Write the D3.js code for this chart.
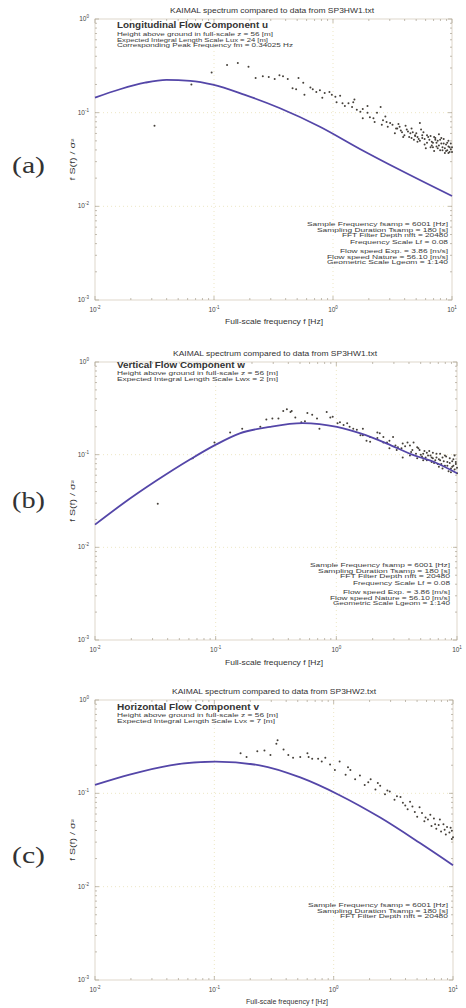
<!DOCTYPE html>
<html>
<head>
<meta charset="utf-8">
<script src="https://cdn.jsdelivr.net/npm/d3@7"></script>
<style>
  body { margin: 0; background: #ffffff; }
  svg { display: block; }
</style>
</head>
<body>
<div id="canvas"></div>
<script>
// page size
var w = 466;
var h = 1008;

// data, kept as log10 values: [log10 f, log10 fS/sigma^2]
var uCurve = [[-2.0,-0.84],[-1.79,-0.75],[-1.58,-0.68],[-1.40,-0.65],[-1.20,-0.66],[-1.01,-0.70],[-0.74,-0.81],
  [-0.45,-0.95],[-0.11,-1.15],[0.23,-1.39],[0.56,-1.61],[1.0,-1.89]];
var uDots = [[-1.50,-1.14],[-1.19,-0.70],[-1.02,-0.57],[-0.89,-0.49],[-0.80,-0.47],[-0.71,-0.51],[-0.65,-0.63],
  [-0.59,-0.61],[-0.54,-0.62],[-0.49,-0.64],[-0.45,-0.60],[-0.42,-0.61],[-0.38,-0.64],[-0.34,-0.74],[-0.31,-0.75],
  [-0.29,-0.63],[-0.25,-0.68],[-0.24,-0.81],[-0.19,-0.73],[-0.17,-0.75],[-0.11,-0.76],[-0.09,-0.84],[-0.07,-0.79],
  [-0.03,-0.78],[-0.01,-0.81],[0.02,-0.83],[0.03,-0.89],[0.08,-0.90],[0.10,-0.93],[0.13,-0.90],[0.16,-0.94],
  [0.17,-0.89],[0.20,-0.97],[0.23,-0.99],[0.25,-0.96],[0.25,-1.06],[0.29,-1.00],[0.31,-1.05],[0.34,-1.06],
  [0.35,-1.10],[0.37,-1.00],[0.40,-0.94],[0.41,-1.13],[0.42,-1.08],[0.45,-1.10],[0.46,-1.15],[0.48,-1.11],
  [0.50,-1.13],[0.52,-1.22],[0.54,-1.17],[0.56,-1.15],[0.58,-1.21],[0.59,-1.26],[0.62,-1.18],[0.65,-1.22],
  [0.66,-1.27],[0.67,-1.21],[0.71,-1.26],[0.71,-1.31],[0.73,-1.11],[0.75,-1.24],[0.77,-1.28],[0.79,-1.32],
  [0.80,-1.26],[0.83,-1.31],[0.84,-1.37],[0.86,-1.27],[0.87,-1.32],[0.88,-1.38],[0.90,-1.29],[0.92,-1.37],
  [0.94,-1.43],[0.96,-1.40],[0.98,-1.37],[1.00,-1.42],[0.61,-1.14],[0.69,-1.24],[0.74,-1.18],[0.82,-1.25],
  [0.86,-1.29],[0.91,-1.33],[0.95,-1.34],[0.97,-1.30],[0.99,-1.39],[0.93,-1.28],[0.89,-1.23],[0.78,-1.38],
  [0.82,-1.37],[0.72,-1.28],[0.64,-1.26],[0.55,-1.12],[0.44,-1.04],[0.29,-0.93],[0.18,-0.86],[0.06,-0.82],
  [-0.14,-0.78],[0.97,-1.43],[0.85,-1.41],[0.92,-1.40],
  [0.57,-1.19],[0.60,-1.24],[0.63,-1.20],[0.66,-1.17],[0.68,-1.29],[0.70,-1.22],[0.73,-1.30],[0.76,-1.21],
  [0.77,-1.34],[0.79,-1.24],[0.81,-1.29],[0.83,-1.35],[0.85,-1.26],[0.87,-1.36],[0.88,-1.30],[0.90,-1.40],
  [0.91,-1.27],[0.93,-1.33],[0.94,-1.38],[0.96,-1.32],[0.97,-1.36],[0.98,-1.42],[0.99,-1.33],[1.00,-1.37],
  [0.95,-1.41],[0.89,-1.35],[0.84,-1.32],[0.75,-1.27],[0.69,-1.25],[0.53,-1.17]];

var wCurve = [[-2.0,-1.755],[-1.77,-1.53],[-1.49,-1.28],[-1.21,-1.05],[-1.01,-0.90],[-0.80,-0.77],[-0.55,-0.70],
  [-0.28,-0.66],[-0.14,-0.67],[0.005,-0.70],[0.20,-0.77],[0.42,-0.88],[0.61,-0.99],[0.83,-1.09],[1.0,-1.20]];
var wDots = [[-1.48,-1.53],[-1.19,-1.04],[-1.01,-0.87],[-0.88,-0.76],[-0.78,-0.72],[-0.63,-0.70],[-0.58,-0.62],
  [-0.53,-0.61],[-0.48,-0.61],[-0.44,-0.53],[-0.41,-0.51],[-0.38,-0.54],[-0.37,-0.53],[-0.34,-0.60],[-0.29,-0.65],
  [-0.26,-0.64],[-0.24,-0.55],[-0.20,-0.57],[-0.16,-0.61],[-0.14,-0.72],[-0.08,-0.54],[-0.05,-0.60],[-0.03,-0.59],
  [0.01,-0.66],[0.03,-0.65],[0.06,-0.68],[0.09,-0.66],[0.11,-0.70],[0.14,-0.72],[0.17,-0.73],[0.20,-0.79],
  [0.22,-0.72],[0.22,-0.79],[0.25,-0.85],[0.28,-0.86],[0.28,-0.81],[0.34,-0.76],[0.34,-0.82],[0.36,-0.77],
  [0.39,-0.81],[0.39,-0.87],[0.42,-0.87],[0.44,-0.85],[0.44,-0.93],[0.47,-0.81],[0.49,-0.90],[0.50,-0.95],
  [0.51,-0.92],[0.54,-0.93],[0.55,-0.88],[0.55,-1.03],[0.59,-0.87],[0.61,-0.90],[0.61,-1.01],[0.64,-0.87],
  [0.67,-0.92],[0.67,-1.04],[0.69,-0.95],[0.72,-0.99],[0.75,-0.98],[0.75,-1.06],[0.78,-1.01],[0.80,-0.98],
  [0.80,-1.04],[0.83,-1.03],[0.86,-1.06],[0.88,-1.15],[0.88,-1.03],[0.92,-1.08],[0.94,-1.04],[0.97,-1.12],
  [0.98,-1.01],[1.00,-1.14],[1.00,-1.20],[0.70,-1.00],[0.74,-1.03],[0.79,-1.08],[0.84,-1.10],[0.90,-1.12],
  [0.95,-1.15],[0.96,-1.07],[0.91,-1.02],[0.86,-0.99],[0.82,-1.06],[0.77,-0.96],[0.93,-1.18],[0.99,-1.10],
  [0.63,-0.95],[0.57,-0.91],
  [0.62,-0.97],[0.66,-0.99],[0.68,-0.93],[0.71,-1.02],[0.73,-0.96],[0.76,-1.01],[0.79,-1.03],[0.81,-1.09],
  [0.83,-0.99],[0.85,-1.05],[0.87,-1.10],[0.89,-1.07],[0.90,-1.01],[0.92,-1.12],[0.94,-1.09],[0.96,-1.13],
  [0.97,-1.05],[0.98,-1.16],[0.99,-1.08],[0.95,-1.19],[0.85,-1.13],[0.72,-1.06]];

var vCurve = [[-2.0,-0.91],[-1.71,-0.80],[-1.37,-0.70],[-0.99,-0.66],[-0.62,-0.70],[-0.28,-0.83],[0.05,-1.02],
  [0.39,-1.26],[0.72,-1.53],[1.0,-1.77]];
var vDots = [[-0.78,-0.57],[-0.73,-0.61],[-0.64,-0.55],[-0.58,-0.54],[-0.53,-0.59],[-0.48,-0.47],[-0.47,-0.43],
  [-0.42,-0.53],[-0.38,-0.59],[-0.34,-0.62],[-0.28,-0.61],[-0.22,-0.57],[-0.21,-0.61],[-0.13,-0.63],[-0.07,-0.62],
  [-0.03,-0.69],[0.01,-0.75],[0.05,-0.66],[0.10,-0.80],[0.14,-0.75],[0.18,-0.85],[0.22,-0.81],[0.26,-0.91],
  [0.31,-0.85],[0.35,-0.96],[0.39,-0.92],[0.43,-1.01],[0.47,-0.98],[0.51,-1.07],[0.56,-1.04],[0.60,-1.13],
  [0.64,-1.09],[0.68,-1.20],[0.72,-1.15],[0.77,-1.26],[0.81,-1.23],[0.85,-1.33],[0.89,-1.28],[0.93,-1.39],
  [0.98,-1.37],[1.00,-1.47],
  [0.70,-1.25],[0.74,-1.21],[0.76,-1.30],[0.79,-1.28],[0.82,-1.35],[0.84,-1.27],[0.86,-1.38],[0.88,-1.34],
  [0.90,-1.41],[0.92,-1.33],[0.94,-1.44],[0.95,-1.36],[0.97,-1.42],[0.99,-1.49],[0.99,-1.40],[0.62,-1.17],
  [0.66,-1.14],[0.58,-1.10],[0.53,-1.03],[0.45,-0.97],[0.37,-0.89],[0.29,-0.88],[0.12,-0.72],[-0.10,-0.66],
  [-0.18,-0.63]];

// axis ranges and tick labels
var xDomain = [0.01, 10];
var yDomain = [0.001, 1];
var xTicks = [0.01, 0.1, 1, 10];
var yTicks = [0.001, 0.01, 0.1, 1];

var titles = ["KAIMAL spectrum compared to data from SP3HW1.txt",
              "KAIMAL spectrum compared to data from SP3HW1.txt",
              "KAIMAL spectrum compared to data from SP3HW2.txt"];
var headers = ["Longitudinal Flow Component u", "Vertical Flow Component w", "Horizontal Flow Component v"];
var infoLines = [
  ["Height above ground in full-scale z = 56 [m]", "Expected Integral Length Scale Lux = 24 [m]", "Corresponding Peak Frequency fm = 0.34025 Hz"],
  ["Height above ground in full-scale z = 56 [m]", "Expected Integral Length Scale Lwx = 2 [m]"],
  ["Height above ground in full-scale z = 56 [m]", "Expected Integral Length Scale Lvx = 7 [m]"]
];
var paramLines = [
  ["Sample Frequency fsamp = 6001 [Hz]", "Sampling Duration Tsamp = 180 [s]", "FFT Filter Depth nfft = 20480",
   "Frequency Scale Lf = 0.08", "Flow speed Exp. = 3.86 [m/s]", "Flow speed Nature = 56.10 [m/s]", "Geometric Scale Lgeom = 1:140"],
  ["Sample Frequency fsamp = 6001 [Hz]", "Sampling Duration Tsamp = 180 [s]", "FFT Filter Depth nfft = 20480",
   "Frequency Scale Lf = 0.08", "Flow speed Exp. = 3.86 [m/s]", "Flow speed Nature = 56.10 [m/s]", "Geometric Scale Lgeom = 1:140"],
  ["Sample Frequency fsamp = 6001 [Hz]", "Sampling Duration Tsamp = 180 [s]", "FFT Filter Depth nfft = 20480"]
];
var panelLabels = ["(a)", "(b)", "(c)"];

var svg = d3.select("#canvas")
  .append("svg")
  .attr("width", w)
  .attr("height", h)
  .style("background-color", "#ffffff");

var font = "'Liberation Sans', Arial, sans-serif";

function sup(sel, d) {
  var e = Math.round(Math.log10(d));
  sel.text("10").append("tspan").attr("dy", -3).attr("font-size", 4.5).text(e);
}

// stretch a text to the width it has in the scan
function fit(sel, len) {
  if (len) sel.attr("textLength", len).attr("lengthAdjust", "spacingAndGlyphs");
}

function drawPanel(i, box, curve, dots) {
  var x = d3.scaleLog().domain(xDomain).range([box.left, box.right]);
  var y = d3.scaleLog().domain(yDomain).range([box.bottom, box.top]);
  var g = svg.append("g");

  // dotted grid
  g.selectAll(".gx").data([0.1, 1]).join("line")
    .attr("x1", d => x(d)).attr("x2", d => x(d))
    .attr("y1", box.top).attr("y2", box.bottom)
    .attr("stroke", "#e8dfb6").attr("stroke-width", 0.8).attr("stroke-dasharray", "1,3");
  g.selectAll(".gy").data([0.01, 0.1]).join("line")
    .attr("x1", box.left).attr("x2", box.right)
    .attr("y1", d => y(d)).attr("y2", d => y(d))
    .attr("stroke", "#e8dfb6").attr("stroke-width", 0.8).attr("stroke-dasharray", "1,3");

  // frame
  g.append("rect")
    .attr("x", box.left).attr("y", box.top)
    .attr("width", box.right - box.left).attr("height", box.bottom - box.top)
    .attr("fill", "none").attr("stroke", "#d6cdbf").attr("stroke-width", 0.8);

  // minor ticks on all sides
  var xm = x.ticks();
  var ym = y.ticks();
  g.selectAll(".mxb").data(xm).join("line")
    .attr("x1", d => x(d)).attr("x2", d => x(d))
    .attr("y1", box.bottom).attr("y2", d => box.bottom - (xTicks.includes(d) ? 4 : 2))
    .attr("stroke", "#a9a090").attr("stroke-width", 0.7);
  g.selectAll(".mxt").data(xm).join("line")
    .attr("x1", d => x(d)).attr("x2", d => x(d))
    .attr("y1", box.top).attr("y2", d => box.top + (xTicks.includes(d) ? 4 : 2))
    .attr("stroke", "#a9a090").attr("stroke-width", 0.7);
  g.selectAll(".myl").data(ym).join("line")
    .attr("y1", d => y(d)).attr("y2", d => y(d))
    .attr("x1", box.left).attr("x2", d => box.left + (yTicks.includes(d) ? 4 : 2))
    .attr("stroke", "#a9a090").attr("stroke-width", 0.7);
  g.selectAll(".myr").data(ym).join("line")
    .attr("y1", d => y(d)).attr("y2", d => y(d))
    .attr("x1", box.right).attr("x2", d => box.right - (yTicks.includes(d) ? 4 : 2))
    .attr("stroke", "#a9a090").attr("stroke-width", 0.7);

  // tick labels
  g.selectAll(".xl").data(xTicks).join("text")
    .attr("x", d => x(d)).attr("y", box.bottom + 12)
    .attr("text-anchor", "middle").attr("font-family", font).attr("font-size", 6.5).attr("fill", "#444")
    .each(function(d) { sup(d3.select(this), d); });
  g.selectAll(".yl").data(yTicks).join("text")
    .attr("x", box.left - 6).attr("y", d => y(d) + 2)
    .attr("text-anchor", "end").attr("font-family", font).attr("font-size", 6.5).attr("fill", "#444")
    .each(function(d) { sup(d3.select(this), d); });

  // axis titles
  g.append("text")
    .attr("x", box.xTitleX).attr("y", box.xTitle)
    .attr("text-anchor", "middle").attr("font-family", font).attr("font-size", 7).attr("fill", "#333")
    .text("Full-scale frequency f [Hz]")
    .call(fit, box.xTitleW);
  g.append("text")
    .attr("transform", "translate(" + 75 + "," + ((box.top + box.bottom) / 2) + ") rotate(-90)")
    .attr("text-anchor", "middle").attr("font-family", font).attr("font-size", 7).attr("fill", "#333")
    .text("f  S(f) / \u03C3\u00B2")
    .call(fit, 42);

  // plot title
  g.append("text")
    .attr("x", box.titleX).attr("y", box.top - 6)
    .attr("text-anchor", "middle").attr("font-family", font).attr("font-size", 7).attr("fill", "#333")
    .text(titles[i])
    .call(fit, 204);

  // component header and info lines
  g.append("text")
    .attr("x", box.left + 22).attr("y", box.header)
    .attr("font-family", font).attr("font-size", 9).attr("font-weight", "bold").attr("fill", "#333")
    .text(headers[i])
    .call(fit, box.headerW);
  g.selectAll(".info").data(infoLines[i]).join("text")
    .attr("x", box.left + 22).attr("y", (d, k) => box.info + k * 5.6)
    .attr("font-family", font).attr("font-size", 5.5).attr("fill", "#3a3a3a")
    .text(d => d)
    .each(function(d, k) { fit(d3.select(this), box.infoW[k]); });

  // parameter block, right aligned
  g.selectAll(".par").data(paramLines[i]).join("text")
    .attr("x", box.parX).attr("y", (d, k) => box.params[k])
    .attr("text-anchor", "end").attr("font-family", font).attr("font-size", 5.5).attr("fill", "#3a3a3a")
    .text(d => d)
    .each(function(d, k) { fit(d3.select(this), box.parW[k]); });

  // scatter
  g.selectAll(".dot").data(dots).join("circle")
    .attr("cx", d => x(Math.pow(10, d[0])))
    .attr("cy", d => y(Math.pow(10, d[1])))
    .attr("r", 1)
    .attr("fill", "#45403a");

  // Kaimal curve
  var line = d3.line()
    .x(d => x(Math.pow(10, d[0])))
    .y(d => y(Math.pow(10, d[1])))
    .curve(d3.curveMonotoneX);
  g.append("path")
    .attr("d", line(curve))
    .attr("fill", "none")
    .attr("stroke", "#5446a8")
    .attr("stroke-width", 1.8);

  // panel label
  svg.append("text")
    .attr("x", 12).attr("y", box.label)
    .attr("font-family", "'Liberation Serif', 'DejaVu Serif', serif").attr("font-size", 23).attr("fill", "#333")
    .text(panelLabels[i])
    .call(fit, 33);
}

drawPanel(0, {left: 95, right: 452, top: 19, bottom: 300, xTitle: 324, xTitleX: 274, xTitleW: 98, titleX: 272,
  label: 173, header: 28, headerW: 151, info: 36, infoW: [156, 151, 176], parX: 448,
  params: [226, 231.6, 237.2, 244, 253, 258.6, 264.2], parW: [141, 131, 106, 98, 108, 121, 121]}, uCurve, uDots);
drawPanel(1, {left: 95, right: 457, top: 362, bottom: 640, xTitle: 665, xTitleX: 274, xTitleW: 98, titleX: 275,
  label: 508, header: 368, headerW: 128, info: 375, infoW: [161, 161], parX: 450,
  params: [567, 572.6, 578.2, 585, 594, 599.6, 605.2], parW: [140, 132, 110, 97, 107, 120, 117]}, wCurve, wDots);
drawPanel(2, {left: 95, right: 453, top: 700, bottom: 980, xTitle: 1004, xTitleX: 287, xTitleW: 82, titleX: 274,
  label: 863, header: 710, headerW: 142, info: 717, infoW: [161, 158], parX: 448,
  params: [907, 912.6, 918.2], parW: [140, 131, 108]}, vCurve, vDots);
</script>
</body>
</html>
